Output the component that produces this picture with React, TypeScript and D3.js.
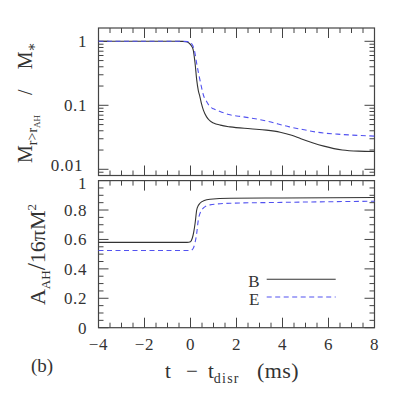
import React from "react";
import * as d3 from "d3";

// ---- data ----
const timeMassB = [-4, -1, -0.35, -0.18, -0.05, 0.05, 0.12, 0.2, 0.27, 0.34, 0.41, 0.48, 0.56, 0.7, 0.85, 1.0, 1.3, 1.72, 2.6, 3.3, 3.9, 4.4, 4.8, 5.3, 5.8, 6.6, 7.3, 8];
const massFracB = [1.0, 1.0, 0.998, 0.985, 0.93, 0.84, 0.73, 0.45, 0.25, 0.17, 0.136, 0.105, 0.084, 0.066, 0.057, 0.053, 0.049, 0.046, 0.043, 0.041, 0.038, 0.034, 0.030, 0.026, 0.023, 0.020, 0.0192, 0.019];

const timeMassE = [-4, -0.5, -0.12, 0.0, 0.08, 0.17, 0.27, 0.34, 0.41, 0.48, 0.56, 0.7, 0.85, 1.0, 1.28, 1.72, 2.3, 3.3, 4.3, 5.0, 5.5, 6.6, 8];
const massFracE = [1.0, 1.0, 0.99, 0.96, 0.88, 0.72, 0.45, 0.33, 0.25, 0.19, 0.145, 0.115, 0.095, 0.088, 0.08, 0.071, 0.066, 0.057, 0.046, 0.041, 0.038, 0.035, 0.033];

const timeAreaB = [-4, -0.15, 0.0, 0.08, 0.14, 0.2, 0.27, 0.34, 0.41, 0.6, 0.85, 1.72, 4, 8];
const areaB = [0.58, 0.58, 0.585, 0.61, 0.65, 0.71, 0.8, 0.83, 0.846, 0.865, 0.873, 0.88, 0.882, 0.885];

const timeAreaE = [-4, 0.0, 0.1, 0.2, 0.27, 0.34, 0.42, 0.49, 0.65, 0.85, 1.72, 4, 8];
const areaE = [0.525, 0.525, 0.535, 0.58, 0.642, 0.733, 0.78, 0.8, 0.825, 0.835, 0.846, 0.852, 0.86];

const xTickValues = [-4, -2, 0, 2, 4, 6, 8];
const xTickLabels = ["\u22124", "\u22122", "0", "2", "4", "6", "8"];
const yTopTickValues = [1, 0.1, 0.01];
const yTopTickLabels = ["1", "0.1", "0.01"];
const yBotTickValues = [0, 0.2, 0.4, 0.6, 0.8, 1];
const yBotTickLabels = ["0", "0.2", "0.4", "0.6", "0.8", "1"];
const legendNames = ["B", "E"];

const X0 = 98.5, X1 = 374.5;
const TOP0 = 28, TOP1 = 175.5;
const BOT0 = 180.6, BOT1 = 327.7;

const AX = "#444";
const TXT = "#333";
const COL_B = "#333";
const COL_E = "#5252f0";
const FONT = "'Liberation Serif', 'Times New Roman', 'DejaVu Serif', serif";
const ts = { fontFamily: FONT };

export default function App() {
  const x = d3.scaleLinear().domain([-4, 8]).range([X0, X1]);
  const yTop = d3.scaleLog().domain([0.008, 1.614]).range([TOP1, TOP0]);
  const yBot = d3.scaleLinear().domain([0, 1]).range([BOT1, BOT0]);

  const lineTop = d3
    .line<[number, number]>()
    .x((d) => x(d[0]))
    .y((d) => yTop(d[1]))
    .curve(d3.curveMonotoneX);
  const lineBot = d3
    .line<[number, number]>()
    .x((d) => x(d[0]))
    .y((d) => yBot(d[1]))
    .curve(d3.curveMonotoneX);

  const zip = (a: number[], b: number[]) => a.map((v, i) => [v, b[i]] as [number, number]);

  const xMinor = d3.range(-4, 8.001, 0.5);
  const MAJ = 10, MIN = 5;

  const logTicks: { v: number; major: boolean }[] = [];
  for (let d = -3; d <= 0; d++) {
    for (let k = 1; k <= 9; k++) {
      const v = k * Math.pow(10, d);
      if (v >= 0.008 && v <= 1.614) logTicks.push({ v, major: k === 1 });
    }
  }
  const yBotMinor = d3.range(0, 1.0001, 0.05);

  const xTickMarks = (yA: number, yB: number, key: string) =>
    xMinor.map((v, i) => {
      const major = Math.abs(v / 2 - Math.round(v / 2)) < 1e-6;
      const L = major ? MAJ : MIN;
      return (
        <g key={key + i}>
          <line x1={x(v)} x2={x(v)} y1={yB} y2={yB - L} stroke={AX} strokeWidth={1} />
          <line x1={x(v)} x2={x(v)} y1={yA} y2={yA + L} stroke={AX} strokeWidth={1} />
        </g>
      );
    });

  return (
    <svg width={402} height={402} style={{ position: "absolute", left: 0, top: 0, background: "#fff", fontFamily: FONT }}>
      <rect x={0} y={0} width={402} height={402} fill="#fff" />
      {/* top panel */}
      <rect x={X0} y={TOP0} width={X1 - X0} height={TOP1 - TOP0} fill="none" stroke={AX} strokeWidth={1.2} />
      {xTickMarks(TOP0, TOP1, "tx")}
      {logTicks.map((t, i) => {
        const L = t.major ? MAJ : MIN;
        const yy = yTop(t.v);
        return (
          <g key={"ly" + i}>
            <line x1={X0} x2={X0 + L} y1={yy} y2={yy} stroke={AX} strokeWidth={1} />
            <line x1={X1} x2={X1 - L} y1={yy} y2={yy} stroke={AX} strokeWidth={1} />
          </g>
        );
      })}
      {yTopTickValues.map((v, i) => (
        <text
          key={"ytl" + i}
          x={i === 2 ? 83 : 87}
          y={yTop(v) + (i === 2 ? 2 : 6)}
          textAnchor="end"
          fontSize={17}
          letterSpacing={0.6}
          fill={TXT}
          style={ts}
        >
          {yTopTickLabels[i]}
        </text>
      ))}
      <path d={lineTop(zip(timeMassB, massFracB)) || ""} fill="none" stroke={COL_B} strokeWidth={1.1} />
      <path
        d={lineTop(zip(timeMassE, massFracE)) || ""}
        fill="none"
        stroke={COL_E}
        strokeWidth={1.1}
        strokeDasharray="5,3.5"
      />

      {/* bottom panel */}
      <rect x={X0} y={BOT0} width={X1 - X0} height={BOT1 - BOT0} fill="none" stroke={AX} strokeWidth={1.2} />
      {xTickMarks(BOT0, BOT1, "bx")}
      {yBotMinor.map((v, i) => {
        const major = i % 4 === 0;
        const L = major ? MAJ : MIN;
        const yy = yBot(v);
        return (
          <g key={"by" + i}>
            <line x1={X0} x2={X0 + L} y1={yy} y2={yy} stroke={AX} strokeWidth={1} />
            <line x1={X1} x2={X1 - L} y1={yy} y2={yy} stroke={AX} strokeWidth={1} />
          </g>
        );
      })}
      {yBotTickValues.map((v, i) => (
        <text
          key={"ybl" + i}
          x={87}
          y={yBot(v) + (i === 5 ? 8 : 6)}
          textAnchor="end"
          fontSize={17}
          letterSpacing={0.6}
          fill={TXT}
          style={ts}
        >
          {yBotTickLabels[i]}
        </text>
      ))}
      {xTickValues.map((v, i) => (
        <text key={"xtl" + i} x={x(v)} y={350} textAnchor="middle" fontSize={17} letterSpacing={0.6} fill={TXT} style={ts}>
          {xTickLabels[i]}
        </text>
      ))}
      <path d={lineBot(zip(timeAreaB, areaB)) || ""} fill="none" stroke={COL_B} strokeWidth={1.1} />
      <path
        d={lineBot(zip(timeAreaE, areaE)) || ""}
        fill="none"
        stroke={COL_E}
        strokeWidth={1.1}
        strokeDasharray="5,3.5"
      />

      {/* legend */}
      <text x={259.5} y={287} textAnchor="end" fontSize={17} fill={TXT} style={ts}>
        {legendNames[0]}
      </text>
      <line x1={266.7} x2={335.7} y1={279.3} y2={279.3} stroke={COL_B} strokeWidth={1.1} />
      <text x={259.5} y={304.5} textAnchor="end" fontSize={17} fill={TXT} style={ts}>
        {legendNames[1]}
      </text>
      <line x1={266.7} x2={335.7} y1={297} y2={297} stroke={COL_E} strokeWidth={1.1} strokeDasharray="5,3.5" />

      {/* axis labels */}
      <text transform="translate(32,102.5) rotate(-90)" textAnchor="middle" fontSize={20} fill={TXT} style={ts}>
        M
        <tspan fontSize={14} dy={5}>r&gt;r</tspan>
        <tspan fontSize={9} dy={3}>AH</tspan>
        <tspan dy={-8}>{"\u2002\u2002/\u2002\u2002M"}</tspan>
        <tspan fontSize={14} dy={4}>{"\u2217"}</tspan>
      </text>
      <text transform="translate(45,254.5) rotate(-90)" textAnchor="middle" fontSize={22} fill={TXT} style={ts}>
        A
        <tspan fontSize={13} dy={5}>AH</tspan>
        <tspan dy={-5} fontSize={26}>/</tspan>
        <tspan>16πM</tspan>
        <tspan fontSize={13} dy={-9}>2</tspan>
      </text>
      <text x={165} y={378} fontSize={21} fill={TXT} style={ts}>
        t
        <tspan x={186}>{"\u2212"}</tspan>
        <tspan x={208}>t</tspan>
        <tspan fontSize={14} dy={5} letterSpacing={1.2}>disr</tspan>
        <tspan x={257} dy={-5} letterSpacing={0.4} fontSize={22}>(ms)</tspan>
      </text>
      <text x={31} y={372} fontSize={19} fill={TXT} style={ts}>
        (b)
      </text>
    </svg>
  );
}
